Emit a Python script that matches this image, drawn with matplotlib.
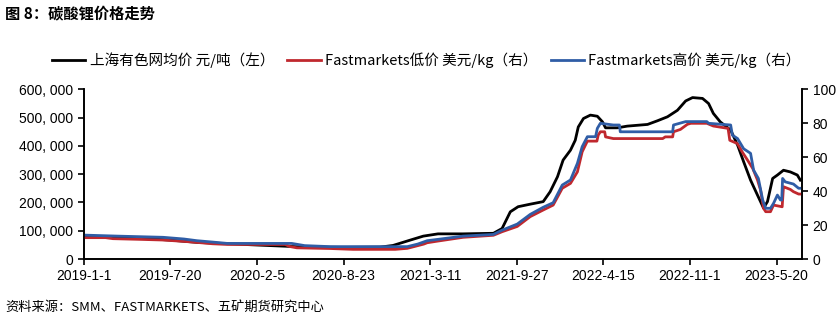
import matplotlib
matplotlib.use("Agg")
import matplotlib.pyplot as plt
import pandas as pd

plt.rcParams['font.family'] = ['Noto Sans CJK SC', 'DejaVu Sans']

# 上海有色网均价 元/吨（左轴）
smm_dates = ["2019-01-01", "2019-03-09", "2019-05-15", "2019-07-19", "2019-09-19",
             "2019-11-18", "2020-02-05", "2020-05-07", "2020-08-22", "2020-11-15",
             "2020-12-15", "2021-01-24", "2021-02-23", "2021-03-29", "2021-05-26",
             "2021-08-04", "2021-08-24", "2021-09-12", "2021-09-30", "2021-10-28",
             "2021-11-27", "2021-12-13", "2021-12-30", "2022-01-12", "2022-01-29",
             "2022-02-09", "2022-02-16", "2022-02-28", "2022-03-16", "2022-04-01",
             "2022-04-13", "2022-04-20", "2022-05-17", "2022-06-09", "2022-07-26",
             "2022-08-18", "2022-09-10", "2022-10-03", "2022-10-22", "2022-11-07",
             "2022-11-30", "2022-12-14", "2022-12-25", "2023-01-10", "2023-02-03",
             "2023-02-19", "2023-03-05", "2023-03-21", "2023-04-06", "2023-04-20",
             "2023-04-29", "2023-05-11", "2023-05-22", "2023-06-05", "2023-06-21",
             "2023-07-07", "2023-07-14"]
smm_price = [81000, 79000, 73000, 67000, 59000,
             55000, 49500, 43500, 41000, 42000,
             48000, 67000, 81000, 89000, 89000,
             91000, 108000, 167000, 185000, 194000,
             203000, 238000, 291000, 350000, 385000,
             420000, 467000, 497000, 509000, 505000,
             485000, 464000, 464000, 470000, 476000,
             489000, 503000, 526000, 559000, 571000,
             568000, 550000, 515000, 485000, 456000,
             403000, 344000, 279000, 226000, 180000,
             203000, 285000, 297000, 314000, 308000,
             297000, 279000]

# Fastmarkets低价 美元/kg（右轴）
low_dates = ["2019-01-01", "2019-02-20", "2019-03-09", "2019-05-10", "2019-07-03",
             "2019-08-20", "2019-09-19", "2019-10-25", "2019-11-28", "2020-04-10",
             "2020-04-20", "2020-05-07", "2020-07-23", "2020-09-14", "2020-12-20",
             "2021-01-17", "2021-02-24", "2021-03-04", "2021-03-29", "2021-05-26",
             "2021-08-04", "2021-08-24", "2021-09-28", "2021-10-28", "2021-11-27",
             "2021-12-20", "2022-01-10", "2022-01-29", "2022-02-14", "2022-02-25",
             "2022-03-09", "2022-03-31", "2022-04-03", "2022-04-08", "2022-04-18",
             "2022-04-20", "2022-05-08", "2022-08-30", "2022-09-05", "2022-09-22",
             "2022-09-24", "2022-10-10", "2022-10-26", "2022-11-03", "2022-12-10",
             "2022-12-25", "2023-01-28", "2023-02-01", "2023-02-19", "2023-03-02",
             "2023-03-14", "2023-03-26", "2023-04-06", "2023-04-13", "2023-04-20",
             "2023-04-25", "2023-05-06", "2023-05-13", "2023-06-02", "2023-06-05",
             "2023-06-21", "2023-06-28", "2023-07-10", "2023-07-14"]
low_price = [12.6, 12.6, 12.0, 11.6, 11.2,
             10.4, 9.8, 9.0, 8.6, 8.6,
             7.4, 6.6, 6.2, 5.7, 5.7,
             6.3, 8.8, 9.6, 10.6, 12.8,
             14.0, 16.1, 19.2, 25.0, 28.9,
             31.8, 41.7, 44.6, 51.4, 63.2,
             69.5, 69.5, 73.0, 75.0, 75.0,
             72.0, 71.0, 71.0, 72.0, 72.0,
             75.0, 76.4, 79.4, 80.0, 80.0,
             78.4, 77.0, 70.0, 68.0, 63.0,
             58.3, 53.4, 46.6, 40.7, 29.9,
             27.9, 27.9, 31.8, 30.8, 42.6,
             41.0, 39.7, 38.3, 38.3]

# Fastmarkets高价 美元/kg（右轴）
high_dates = ["2019-01-01", "2019-03-20", "2019-07-03", "2019-08-20", "2019-09-19",
              "2019-10-25", "2019-11-28", "2020-04-25", "2020-05-25", "2020-07-23",
              "2021-01-17", "2021-02-10", "2021-03-04", "2021-03-29", "2021-05-26",
              "2021-08-04", "2021-08-24", "2021-09-28", "2021-10-28", "2021-11-27",
              "2021-12-20", "2022-01-10", "2022-01-29", "2022-02-14", "2022-02-25",
              "2022-03-09", "2022-03-28", "2022-04-01", "2022-04-08", "2022-05-08",
              "2022-05-22", "2022-05-24", "2022-09-22", "2022-09-24", "2022-10-22",
              "2022-12-10", "2022-12-14", "2023-02-03", "2023-02-07", "2023-02-19",
              "2023-03-05", "2023-03-21", "2023-03-28", "2023-04-08", "2023-04-18",
              "2023-04-25", "2023-05-06", "2023-05-13", "2023-05-22", "2023-05-29",
              "2023-06-01", "2023-06-03", "2023-06-09", "2023-06-28", "2023-07-10",
              "2023-07-14"]
high_price = [14.1, 13.5, 12.8, 11.8, 10.8,
              10.0, 9.2, 9.2, 7.9, 7.3,
              7.3, 8.8, 10.8, 11.6, 13.5,
              14.5, 17.0, 20.6, 26.3, 30.5,
              33.2, 43.6, 46.6, 56.4, 66.2,
              72.1, 72.1, 77.0, 80.0, 79.0,
              79.0, 75.0, 75.0, 79.0, 81.0,
              81.0, 80.0, 79.0, 73.0, 71.0,
              65.0, 62.3, 52.4, 47.5, 34.8,
              29.9, 29.9, 32.8, 37.7, 34.8,
              34.8, 47.5, 45.5, 44.2, 41.7,
              41.7]

tick_dates = ["2019-1-1", "2019-7-20", "2020-2-5", "2020-8-23", "2021-3-11",
              "2021-9-27", "2022-4-15", "2022-11-1", "2023-5-20"]
left_ticks = [0, 100000, 200000, 300000, 400000, 500000, 600000]
right_ticks = [0, 20, 40, 60, 80, 100]

labels = ["上海有色网均价 元/吨（左）", "Fastmarkets低价 美元/kg（右）",
          "Fastmarkets高价 美元/kg（右）"]

fig = plt.figure(figsize=(8.39, 3.25), dpi=100)
ax = fig.add_axes([0.100, 0.203, 0.856, 0.522])
ax2 = ax.twinx()

l1, = ax.plot(pd.to_datetime(smm_dates), smm_price, color='black', lw=2.0)
l2, = ax2.plot(pd.to_datetime(low_dates), low_price, color='#C0282E', lw=2.0)
l3, = ax2.plot(pd.to_datetime(high_dates), high_price, color='#2F5DA6', lw=2.0)

ax.set_xlim(pd.Timestamp("2019-01-01"), pd.Timestamp("2023-07-18"))
ax.set_ylim(0, 600000)
ax2.set_ylim(0, 100)

ax.set_xticks(pd.to_datetime(tick_dates))
ax.set_xticklabels(tick_dates)
ax.set_yticks(left_ticks)
ax.set_yticklabels([f"{v:,}".replace(",", ", ") for v in left_ticks])
ax2.set_yticks(right_ticks)

for a in (ax, ax2):
    a.spines['top'].set_visible(False)
    for s in ('left', 'right', 'bottom'):
        a.spines[s].set_linewidth(1.2)
    a.tick_params(direction='out', length=4, width=1.2, labelsize=10)
    for t in a.get_xticklabels() + a.get_yticklabels():
        t.set_fontfamily('Liberation Sans')

fig.legend([l1, l2, l3], labels, loc='center', bbox_to_anchor=(0.508, 0.815),
           ncol=3, frameon=False, fontsize=10.5, handlelength=2.3,
           handletextpad=0.3, columnspacing=0.9)

fig.text(0.006, 0.955, "图 8：碳酸锂价格走势", fontsize=11, fontweight='bold',
         va='center', ha='left')
fig.text(0.006, 0.055, "资料来源：SMM、FASTMARKETS、五矿期货研究中心", fontsize=9.5,
         va='center', ha='left')

fig.savefig("out.png", dpi=100)
